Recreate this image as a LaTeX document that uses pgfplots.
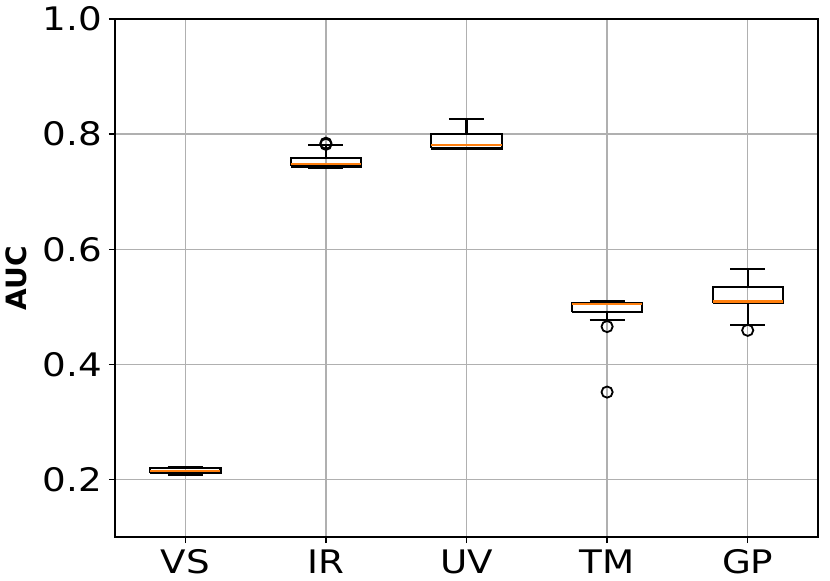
\documentclass[border=0pt]{standalone}
\usepackage{fontspec}
\setmainfont{DejaVu Sans}
\newfontfamily\tickfont[FakeStretch=1.15]{DejaVu Sans}
\usepackage{pgfplots}
\pgfplotsset{compat=1.18}
\definecolor{mplorange}{HTML}{FF7F0E}
\definecolor{mplgrid}{HTML}{B0B0B0}
\begin{document}
\begin{tikzpicture}
\path (0,0) rectangle (830bp,581bp);
\begin{axis}[
  at={(115bp,44bp)}, anchor=south west,
  scale only axis, width=703bp, height=518bp,
  xmin=0.5, xmax=5.5, ymin=0.1, ymax=1.0,
  xtick={1,2,3,4,5}, xticklabels={VS,IR,UV,TM,GP},
  ytick={0.2,0.4,0.6,0.8,1.0}, yticklabels={0.2,0.4,0.6,0.8,1.0},
  xmajorgrids, ymajorgrids,
  grid style={draw=mplgrid, line width=1.4bp},
  axis line style={line width=1.6bp},
  tick style={black, line width=1.4bp},
  tick align=outside, major tick length=6bp,
  xtick pos=bottom, ytick pos=left,
  ticklabel style={font=\tickfont\fontsize{32.4bp}{38bp}\selectfont, inner sep=0pt},
  yticklabel style={xshift=-7bp},
  xticklabel style={yshift=-6.5bp},
  ylabel={AUC},
  every axis y label/.style={at={(axis description cs:0,0.5)}, rotate=90, anchor=center, yshift=99bp, font=\bfseries\fontsize{28bp}{32bp}\selectfont},
  unbounded coords=jump,
]
% boxes (Q1 to Q3)
\addplot[black, line width=2.1bp, line join=miter, mark=none] coordinates {
 (0.75,0.2120) (1.25,0.2120) (1.25,0.2195) (0.75,0.2195) (0.75,0.2120) (nan,nan)
 (1.75,0.7438) (2.25,0.7438) (2.25,0.7588) (1.75,0.7588) (1.75,0.7438) (nan,nan)
 (2.75,0.7750) (3.25,0.7750) (3.25,0.8000) (2.75,0.8000) (2.75,0.7750) (nan,nan)
 (3.75,0.4917) (4.25,0.4917) (4.25,0.5073) (3.75,0.5073) (3.75,0.4917) (nan,nan)
 (4.75,0.5073) (5.25,0.5073) (5.25,0.5351) (4.75,0.5351) (4.75,0.5073)
};
% whiskers and caps
\addplot[black, line width=2.1bp, mark=none] coordinates {
 (1,0.2120) (1,0.2082) (nan,nan) (0.875,0.2082) (1.125,0.2082) (nan,nan)
 (1,0.2195) (1,0.2214) (nan,nan) (0.875,0.2214) (1.125,0.2214) (nan,nan)
 (2,0.7438) (2,0.7409) (nan,nan) (1.875,0.7409) (2.125,0.7409) (nan,nan)
 (2,0.7588) (2,0.7809) (nan,nan) (1.875,0.7809) (2.125,0.7809) (nan,nan)
 (3,0.7750) (3,0.7745) (nan,nan) (2.875,0.7745) (3.125,0.7745) (nan,nan)
 (3,0.8000) (3,0.8256) (nan,nan) (2.875,0.8256) (3.125,0.8256) (nan,nan)
 (4,0.4917) (4,0.4765) (nan,nan) (3.875,0.4765) (4.125,0.4765) (nan,nan)
 (4,0.5073) (4,0.5101) (nan,nan) (3.875,0.5101) (4.125,0.5101) (nan,nan)
 (5,0.5073) (5,0.4678) (nan,nan) (4.875,0.4678) (5.125,0.4678) (nan,nan)
 (5,0.5351) (5,0.5658) (nan,nan) (4.875,0.5658) (5.125,0.5658)
};
% medians
\addplot[mplorange, line width=2.1bp, mark=none] coordinates {
 (0.75,0.2151) (1.25,0.2151) (nan,nan)
 (1.75,0.7473) (2.25,0.7473) (nan,nan)
 (2.75,0.7814) (3.25,0.7814) (nan,nan)
 (3.75,0.5056) (4.25,0.5056) (nan,nan)
 (4.75,0.5092) (5.25,0.5092)
};
% outliers
\addplot[only marks, mark=o, mark size=5.6bp, mark options={draw=black, fill=none, line width=1.8bp}] coordinates {
 (2,0.7822) (2,0.7842)
 (4,0.4656) (4,0.3518)
 (5,0.4591)
};
\end{axis}
\end{tikzpicture}
\end{document}
